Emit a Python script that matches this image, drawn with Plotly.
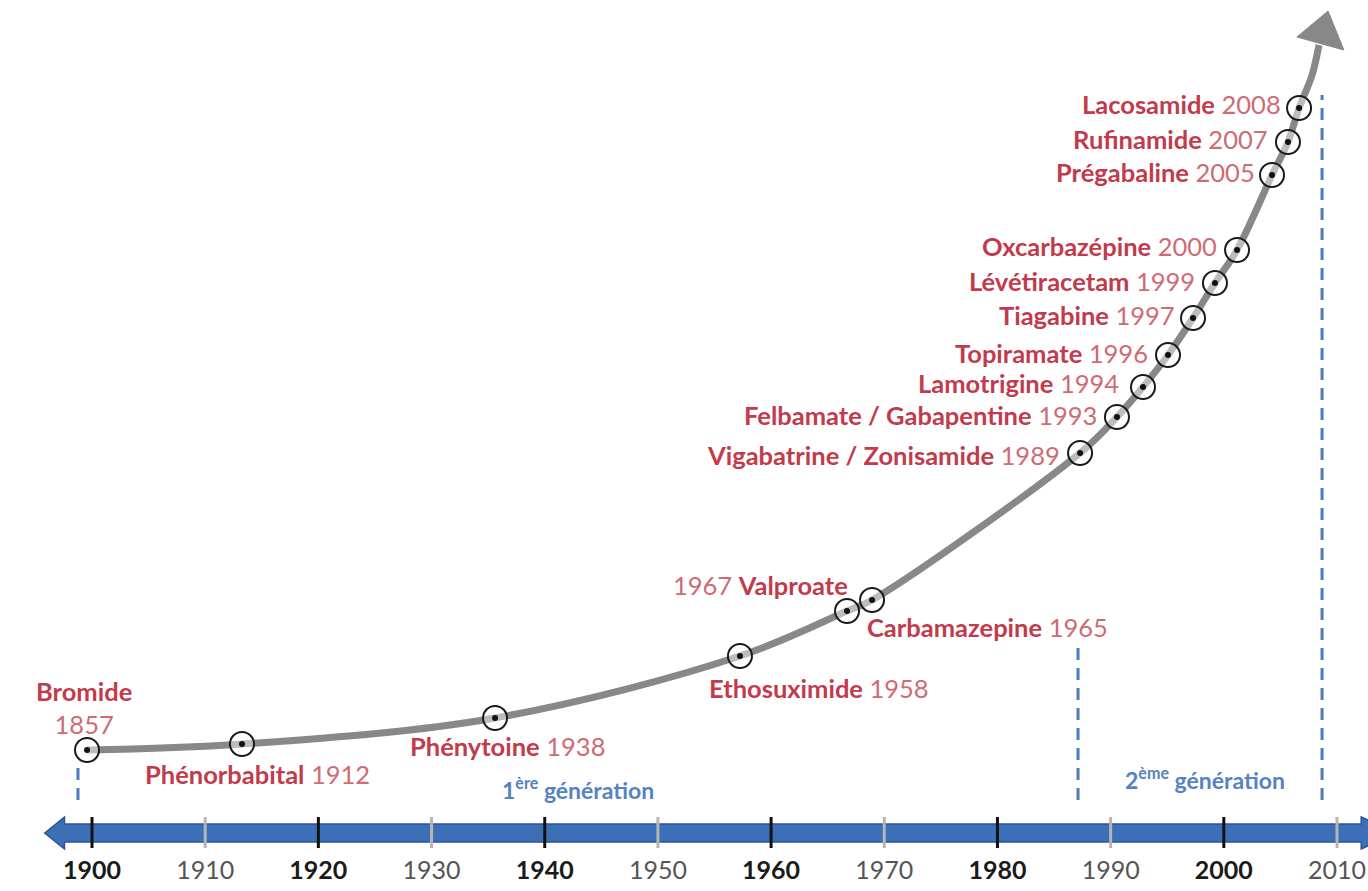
import plotly.graph_objects as go

# ---------------- data ----------------
drug_names = ["Bromide", "Phénorbabital", "Phénytoine", "Ethosuximide", "Valproate",
              "Carbamazepine", "Vigabatrine / Zonisamide", "Felbamate / Gabapentine",
              "Lamotrigine", "Topiramate", "Tiagabine", "Lévétiracetam", "Oxcarbazépine",
              "Prégabaline", "Rufinamide", "Lacosamide"]
drug_years = ["1857", "1912", "1938", "1958", "1967", "1965", "1989", "1993", "1994",
              "1996", "1997", "1999", "2000", "2005", "2007", "2008"]
# position of each drug on the schematic growth curve (x in timeline years, y = height)
point_x = [1899.56, 1913.25, 1935.61, 1957.25, 1966.71, 1968.92, 1987.30, 1990.56,
           1992.86, 1995.07, 1997.28, 1999.22, 2001.17, 2004.26, 2005.67, 2006.65]
point_y = [100, 106, 132, 194, 239, 250, 397, 433, 463, 495, 532, 567, 600, 675, 708, 742]
# curve continuation up to the arrow head
tail_x = [2007.80, 2008.41]
tail_y = [775, 805]

tick_years = [1900, 1910, 1920, 1930, 1940, 1950, 1960, 1970, 1980, 1990, 2000, 2010]
major_ticks = [1900, 1920, 1940, 1960, 1980, 2000]

# dashed generation separators (x, top height)
sep_x = [1898.76, 1987.12, 2008.68]
sep_top = [90, 205, 755]
sep_bottom = 50

gen_labels = ["1<sup>ère</sup> génération", "2<sup>ème</sup> génération"]
gen_x = [1942.94, 1998.34]
gen_y = [62, 72]

# ---------------- styles ----------------
NAME_COL = "#c23a4b"
YEAR_COL = "#cf6b74"
FONT = "Lato"
CURVE_COL = "#888888"
BLUE = "#3d6fb6"
BLUE_DARK = "#2b5596"
DASH_COL = "#4a7cc0"

X0, X1 = 1891.87, 2012.74

# label placement per drug: (xanchor, xshift px, yshift px, year_first)
label_style = [
    ("center", -3, 43, False),
    ("center", 16, -30, False),
    ("center", 12, -28, False),
    ("left", -33, -32, False),
    ("right", 3, 26, True),
    ("left", -7, -27, False),
    ("right", -18, -2, False),
    ("right", -18, 2, False),
    ("right", -22, 4, False),
    ("right", -18, 2, False),
    ("right", -16, 3, False),
    ("right", -18, 2, False),
    ("right", -18, 4, False),
    ("right", -15, 3, False),
    ("right", -18, 3, False),
    ("right", -16, 4, False),
]

fig = go.Figure()

# growth curve
fig.add_trace(go.Scatter(
    x=point_x + tail_x, y=point_y + tail_y, mode="lines",
    line=dict(color=CURVE_COL, width=7, shape="spline", smoothing=1.0),
    hoverinfo="skip", showlegend=False))

# circles + dots
fig.add_trace(go.Scatter(
    x=point_x, y=point_y, mode="markers",
    marker=dict(symbol="circle", size=24, color="rgba(255,255,255,0.45)",
                line=dict(color="#1a1a1a", width=2)),
    cliponaxis=False, hoverinfo="skip", showlegend=False))
fig.add_trace(go.Scatter(
    x=point_x, y=point_y, mode="markers",
    marker=dict(symbol="circle", size=6, color="#111111"),
    cliponaxis=False, hoverinfo="skip", showlegend=False))

shapes = []

# arrow head at end of the curve (decoration)
ex, ey = tail_x[-1], tail_y[-1]
shapes.append(dict(type="path", xref="x", yref="y",
                   path=f"M {ex-1.95},{ey+8} L {ex+0.80},{ey+34} L {ex+2.2},{ey-5} Z",
                   fillcolor=CURVE_COL, line=dict(color=CURVE_COL, width=1)))

# blue timeline arrow
ymid = 17
shapes.append(dict(type="path", xref="x", yref="y",
                   path=(f"M {X0+3.95},{ymid} L {X0+5.7},{ymid+16} L {X0+5.7},{ymid+9} "
                         f"L {X1-0.6},{ymid+9} L {X1-0.6},{ymid+16} L {X1+2.5},{ymid} "
                         f"L {X1-0.6},{ymid-16} L {X1-0.6},{ymid-9} L {X0+5.7},{ymid-9} "
                         f"L {X0+5.7},{ymid-16} Z"),
                   fillcolor=BLUE, line=dict(color=BLUE_DARK, width=1.5)))
# tick marks
for t in tick_years:
    shapes.append(dict(type="line", xref="x", yref="y", x0=t, x1=t, y0=2, y1=33,
                       line=dict(color="#111111" if t in major_ticks else "#b5b5b5", width=3)))

# dashed separators
for sx, st in zip(sep_x, sep_top):
    shapes.append(dict(type="line", xref="x", yref="y", x0=sx, x1=sx, y0=sep_bottom, y1=st,
                       line=dict(color=DASH_COL, width=3, dash="12px,8px")))

annotations = []
for name, yr, px, py, (xa, xs, ys, yfirst) in zip(drug_names, drug_years, point_x, point_y, label_style):
    nm = f"<span style='color:{NAME_COL}'><b>{name}</b></span>"
    yy = f"<span style='color:{YEAR_COL}'>{yr}</span>"
    if name == "Bromide":
        txt = f"{nm}<br>{yy}"
    elif yfirst:
        txt = f"{yy} {nm}"
    else:
        txt = f"{nm} {yy}"
    annotations.append(dict(x=px, y=py, xref="x", yref="y", text=txt, showarrow=False,
                            xanchor=xa, yanchor="middle", xshift=xs, yshift=ys,
                            font=dict(family=FONT, size=25.5, color=YEAR_COL)))

for gl, gx, gy in zip(gen_labels, gen_x, gen_y):
    annotations.append(dict(x=gx, y=gy, xref="x", yref="y", text=f"<b>{gl}</b>",
                            showarrow=False, xanchor="center", yanchor="middle",
                            font=dict(family=FONT, size=23, color="#5583bf")))

tick_text = [f"<b>{t}</b>" if t in major_ticks else f"<span style='color:#555555'>{t}</span>"
             for t in tick_years]

fig.update_layout(
    width=1368, height=891,
    margin=dict(l=0, r=0, t=0, b=41),
    paper_bgcolor="white", plot_bgcolor="white",
    shapes=shapes, annotations=annotations,
    xaxis=dict(range=[X0, X1], tickvals=tick_years, ticktext=tick_text,
               showgrid=False, zeroline=False, showline=False, ticks="",
               ticklabelstandoff=3,
               tickfont=dict(family=FONT, size=25, color="#1a1a1a")),
    yaxis=dict(range=[0, 850], visible=False, showgrid=False, zeroline=False),
    showlegend=False,
)

fig.write_html("out.html", config={"displayModeBar": False},
               post_script="document.body.style.margin='0';")
